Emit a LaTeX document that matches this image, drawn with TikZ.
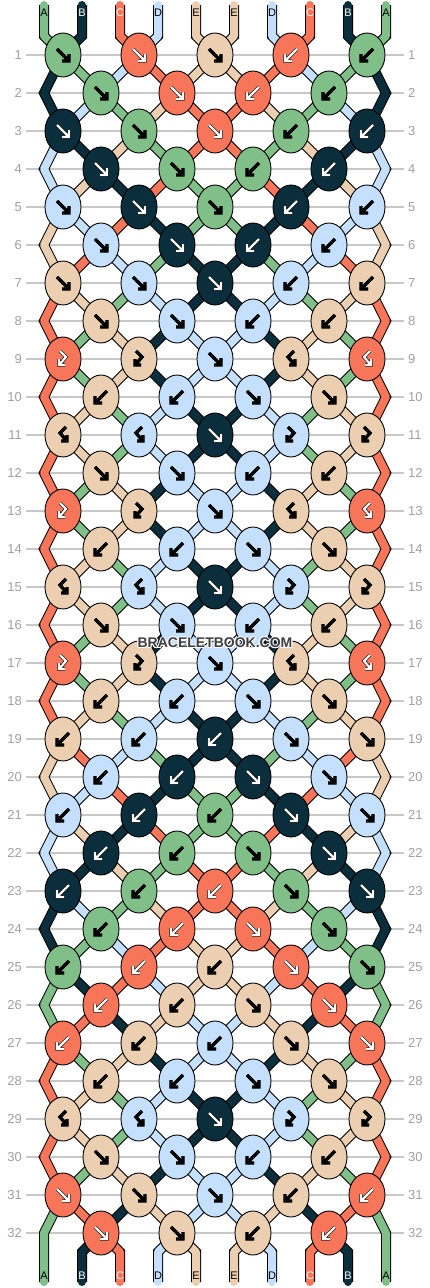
\documentclass[tikz,border=0pt]{standalone}
\usepackage{fontspec}
\setmainfont{Liberation Sans}
\usepackage{tikz}
\usetikzlibrary{shapes.geometric}
\usetikzlibrary{positioning}

\definecolor{thA}{RGB}{128,192,136}
\definecolor{thB}{RGB}{10,46,59}
\definecolor{thC}{RGB}{247,118,90}
\definecolor{thD}{RGB}{197,224,252}
\definecolor{thE}{RGB}{236,207,176}
\colorlet{arA}{black}
\colorlet{arB}{white}
\colorlet{arC}{white}
\colorlet{arD}{black}
\colorlet{arE}{black}
\colorlet{labA}{black}
\colorlet{labB}{white}
\colorlet{labC}{white}
\colorlet{labD}{black}
\colorlet{labE}{black}
\definecolor{rowgrey}{RGB}{200,200,200}
\definecolor{numgrey}{RGB}{160,160,160}
\definecolor{brandgrey}{RGB}{62,62,62}

\pgfdeclarelayer{grid}
\pgfdeclarelayer{threads}
\pgfsetlayers{grid,threads,main}

\tikzset{
  knot/.style={ellipse, draw=black, line width=0.9pt, fill=th#1, minimum width=36pt, minimum height=44pt, inner sep=0pt},
  thread/.style={draw=#1, line width=8pt, line join=round, line cap=round, preaction={draw=black, line width=10pt}},
  glyph/.style={draw=ar#1, line width=2.2pt, line join=miter, line cap=butt, preaction={draw=black, line width=3.4pt}},
  endlabel/.style={inner sep=0pt, font=\fontsize{11}{11}\selectfont, text=lab#1},
  rownum/.style={inner sep=0pt, font=\fontsize{13}{13}\selectfont, text=numgrey},
  brandtext/.style={inner sep=0pt, font=\fontsize{14}{14}\selectfont\bfseries},
}

% knot signs: forward, backward, forward-backward, backward-forward
\newcommand\arrf[2]{\draw[glyph=#2, shift={(#1.center)}] (-6,-6) -- (5,5) (-1,6) -- (6,6) -- (6,-1);}
\newcommand\arrb[2]{\draw[glyph=#2, shift={(#1.center)}] (6,-6) -- (-5,5) (1,6) -- (-6,6) -- (-6,-1);}
\newcommand\arrfb[2]{\draw[glyph=#2, shift={(#1.center)}] (-3,-8) -- (3,-2) -- (-3,5) (-4,0) -- (-4,6) -- (2,6);}
\newcommand\arrbf[2]{\draw[glyph=#2, shift={(#1.center)}] (3,-8) -- (-3,-2) -- (3,5) (4,0) -- (4,6) -- (-2,6);}
\def\mirf{b}\def\mirb{f}\def\mirfb{bf}\def\mirbf{fb}

% row, index, x, thread, kind, first and second position
\newcommand\placeknot[7]{%
  \node[knot=#4, alias=p#1-#6, alias=p#1-#7] (k#1-#2) at (#3,{55+38*(#1-1)}) {};
  \csname arr#5\endcsname{k#1-#2}{#4}%
}

\begin{document}
\begin{tikzpicture}[x=1pt, y=-1pt]
\useasboundingbox (0,0) rectangle (430,1288);

\foreach \r in {1,...,32} {
  \pgfmathsetmacro\yy{55+38*(\r-1)}
  \node[rownum, anchor=east] (nl\r) at (22,\yy) {\r};
  \node[rownum, anchor=west] (nr\r) at (408,\yy) {\r};
  \begin{pgfonlayer}{grid}
    \draw[rowgrey, line width=1.5pt] (26,\yy) -- (404,\yy);
  \end{pgfonlayer}
}

% odd rows: five knots
\foreach \r/\ca/\ka/\cb/\kb/\cc/\kc in {1/A/f/C/f/E/f, 3/B/f/A/f/C/f, 5/D/f/B/f/A/f, 7/E/f/D/f/B/f,
    9/C/fb/E/fb/D/f, 11/E/bf/D/bf/B/f, 13/C/fb/E/fb/D/f, 15/E/bf/D/bf/B/f, 17/C/fb/E/fb/D/f,
    19/E/b/D/b/B/b, 21/D/b/B/b/A/b, 23/B/b/A/b/C/b, 25/A/b/C/b/E/b, 27/C/b/E/b/D/b,
    29/E/bf/D/bf/B/f, 31/C/f/E/f/D/f} {
  \placeknot{\r}{1}{63}{\ca}{\ka}{1}{2}
  \placeknot{\r}{2}{139}{\cb}{\kb}{3}{4}
  \placeknot{\r}{3}{215}{\cc}{\kc}{5}{6}
  \placeknot{\r}{4}{291}{\cb}{\csname mir\kb\endcsname}{7}{8}
  \placeknot{\r}{5}{367}{\ca}{\csname mir\ka\endcsname}{9}{10}
}

% even rows: four knots, outer threads pass at the edge
\foreach \r/\ca/\ka/\cb/\kb in {2/A/f/C/f, 4/B/f/A/f, 6/D/f/B/f, 8/E/f/D/f, 10/E/b/D/b,
    12/E/f/D/f, 14/E/b/D/b, 16/E/f/D/f, 18/E/b/D/b, 20/D/b/B/b, 22/B/b/A/b, 24/A/b/C/b,
    26/C/b/E/b, 28/E/b/D/b, 30/E/f/D/f, 32/C/f/E/f} {
  \placeknot{\r}{1}{101}{\ca}{\ka}{2}{3}
  \placeknot{\r}{2}{177}{\cb}{\kb}{4}{5}
  \placeknot{\r}{3}{253}{\cb}{\csname mir\kb\endcsname}{6}{7}
  \placeknot{\r}{4}{329}{\ca}{\csname mir\ka\endcsname}{8}{9}
  \coordinate (p\r-1) at (44,{55+38*(\r-1)});
  \coordinate (p\r-10) at (386,{55+38*(\r-1)});
}

% loose ends with letters
\foreach \p/\tcol in {1/A,2/B,3/C,4/D,5/E,6/E,7/D,8/C,9/B,10/A} {
  \pgfmathsetmacro\xx{44+38*(\p-1)}
  \coordinate (top-\p) at (\xx,5);
  \coordinate (bot-\p) at (\xx,1282);
  \node[endlabel=\tcol] (ta-\p) at (\xx,13) {\tcol};
  \node[endlabel=\tcol] (tb-\p) at (\xx,1276) {\tcol};
  \begin{pgfonlayer}{threads}
    \draw[thread=th\tcol] (top-\p) -- ++(0,31) -- (p1-\p.center);
    \ifnum\p>1 \ifnum\p<10
      \draw[thread=th\tcol] (bot-\p) -- ++(0,-30) -- (p32-\p.center);
    \fi\fi
  \end{pgfonlayer}
}

% threads below each row (left half, mirrored)
\begin{pgfonlayer}{threads}
\foreach \r/\ta/\tb/\tc/\td/\te in {1/B/A/D/C/E, 2/B/D/A/E/C, 3/D/B/E/A/C, 4/D/E/B/C/A,
    5/E/D/C/B/A, 6/E/C/D/A/B, 7/C/E/A/D/B, 8/C/A/E/B/D, 9/C/A/E/B/D, 10/C/E/A/D/B,
    11/C/E/A/D/B, 12/C/A/E/B/D, 13/C/A/E/B/D, 14/C/E/A/D/B, 15/C/E/A/D/B, 16/C/A/E/B/D,
    17/C/A/E/B/D, 18/C/E/A/D/B, 19/E/C/D/A/B, 20/E/D/C/B/A, 21/D/E/B/C/A, 22/D/B/E/A/C,
    23/B/D/A/E/C, 24/B/A/D/C/E, 25/A/B/C/D/E, 26/A/C/B/E/D, 27/C/A/E/B/D, 28/C/E/A/D/B,
    29/C/E/A/D/B, 30/C/A/E/B/D, 31/A/C/B/E/D} {
  \pgfmathtruncatemacro\rr{\r+1}
  \pgfmathtruncatemacro\rrr{\r+2}
  \pgfmathtruncatemacro\odd{mod(\r,2)}
  \foreach \p/\tcol in {1/\ta,2/\tb,3/\tc,4/\td,5/\te,6/\te,7/\td,8/\tc,9/\tb,10/\ta} {
    \ifnum\p=1 \def\isedge{1}\else\ifnum\p=10 \def\isedge{1}\else\def\isedge{0}\fi\fi
    \ifnum\isedge=1
      \ifnum\odd=1
        \ifnum\r=31
          \draw[thread=th\tcol] (p\r-\p.center) -- (p\rr-\p) -- (bot-\p);
        \else
          \draw[thread=th\tcol] (p\r-\p.center) -- (p\rr-\p) -- (p\rrr-\p.center);
        \fi
      \fi
    \else
      \draw[thread=th\tcol] (p\r-\p.center) -- (p\rr-\p.center);
    \fi
  }
}
\end{pgfonlayer}

\foreach \dx/\dy [count=\i] in {-1/0,1/0,0/-1,0/1,-0.8/-0.8,0.8/0.8,-0.8/0.8,0.8/-0.8}
  \node[brandtext, text=white] (halo\i) at ({215+(\dx)},{643+(\dy)}) {BRACELETBOOK.COM};
\node[brandtext, text=brandgrey] (brand) at (215,643) {BRACELETBOOK.COM};

\end{tikzpicture}
\end{document}
